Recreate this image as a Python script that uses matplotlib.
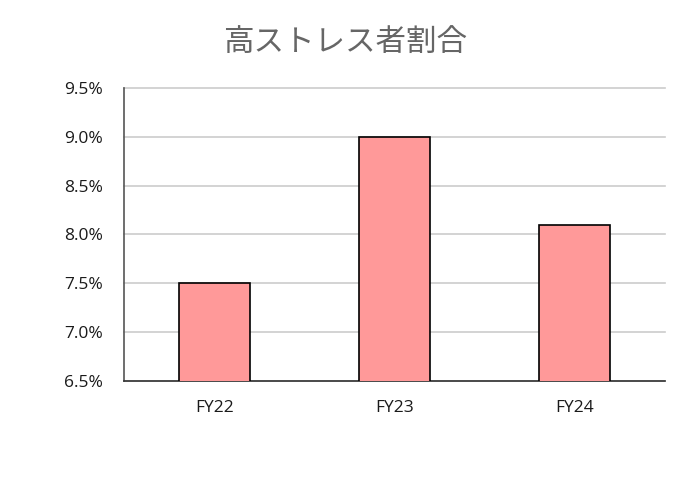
import matplotlib
matplotlib.use("Agg")
import matplotlib.pyplot as plt
from matplotlib.ticker import FuncFormatter

plt.rcParams["font.family"] = ["Open Sans", "Noto Sans CJK JP", "DejaVu Sans"]

categories = ["FY22", "FY23", "FY24"]
values = [7.5, 9.0, 8.1]
y_ticks = [6.5, 7.0, 7.5, 8.0, 8.5, 9.0, 9.5]

fig = plt.figure(figsize=(6.9, 4.8), dpi=100)
ax = fig.add_axes([0.1797, 0.2063, 0.7841, 0.6104])

ax.bar(range(len(categories)), values, width=0.395, bottom=0,
       color="#FF9999", edgecolor="black", linewidth=1.2, zorder=3)

ax.set_xlim(-0.5, len(categories) - 0.5)
ax.set_ylim(6.5, 9.5)
ax.set_yticks(y_ticks)
ax.yaxis.set_major_formatter(FuncFormatter(lambda v, _: f"{v:.1f}%"))
ax.set_xticks(range(len(categories)))
ax.set_xticklabels(categories)

ax.grid(axis="y", color="#cccccc", linewidth=1.2, zorder=0, clip_on=False)
ax.tick_params(length=0, labelsize=12.5, colors="#1a1a1a")
ax.tick_params(axis="x", pad=14)
ax.tick_params(axis="y", pad=15)

for side in ["top", "right"]:
    ax.spines[side].set_visible(False)
ax.spines["left"].set_color("#555555")
ax.spines["left"].set_linewidth(1.2)
ax.spines["bottom"].set_color("#333333")
ax.spines["bottom"].set_linewidth(1.2)

fig.text(0.5, 0.912, "高ストレス者割合", ha="center", va="center",
         fontsize=22, color="#666666",
         family=["Noto Sans CJK JP", "DejaVu Sans"])

fig.savefig("out.png", dpi=100)
